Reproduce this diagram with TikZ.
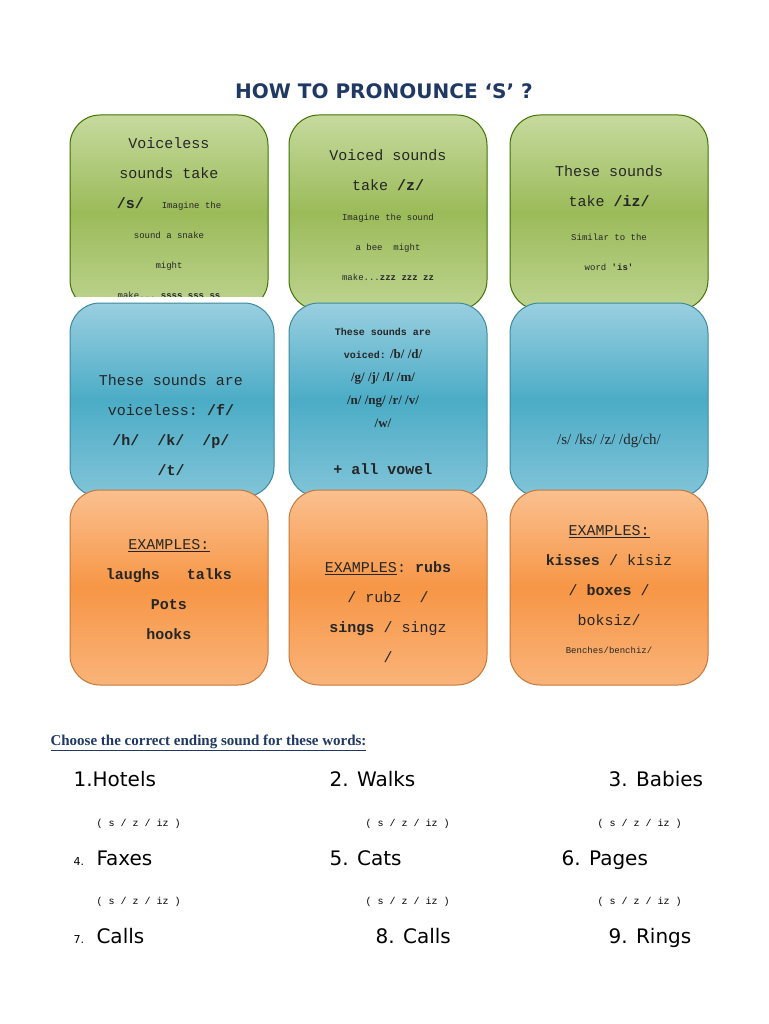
\documentclass[tikz,border=0pt]{standalone}
\usepackage{fontspec}
\setmainfont{Liberation Serif}
\setsansfont{DejaVu Sans}
\setmonofont{Liberation Mono}
\newcommand{\myul}[1]{\underline{#1}}
\begin{document}
\begin{tikzpicture}[x=1pt,y=-1pt,
  card/.style={rounded corners=30pt,line width=1pt},
  green/.style={card,draw=green!40!black!50!olive,top color=gcolA,bottom color=gcolA!80!gcolB,middle color=gcolB},
  blue/.style={card,draw=bcolB!80!black,top color=bcolA,bottom color=bcolA!70!bcolB,middle color=bcolB},
  orange/.style={card,draw=ocolB!80!black,top color=ocolA,bottom color=ocolA!70!ocolB,middle color=ocolB},
  txt/.style={align=center,font=\ttfamily\fontsize{15}{30}\selectfont,text=black!85},
  q/.style={anchor=base west,font=\sffamily\fontsize{20}{24}\selectfont},
  opt/.style={anchor=base west,font=\ttfamily\fontsize{10}{12}\selectfont}]
\definecolor{gcolA}{HTML}{C6DA9E}\definecolor{gcolB}{HTML}{9BBB59}
\definecolor{bcolA}{HTML}{9ACFE0}\definecolor{bcolB}{HTML}{4BACC6}
\definecolor{ocolA}{HTML}{FAC08F}\definecolor{ocolB}{HTML}{F79646}
\definecolor{navy}{HTML}{1F3864}
\fill[white] (0,0) rectangle (768,1024);
\useasboundingbox (0,0) rectangle (768,1024);
\node[font=\sffamily\bfseries\fontsize{20}{24}\selectfont,text=navy] (title) at (384,91) {HOW TO PRONOUNCE ‘S’ ?};
% green row
\begin{scope}
\clip (60,110) rectangle (720,296);
\draw[green] (70,115) rectangle (268,310);
\node[txt] (g1) at (169,218) {Voiceless\\sounds take\\\textbf{/s/}\ \ {\small Imagine the}\\{\small sound a snake\ }\\{\small might}\\{\small make... \textbf{ssss sss ss}}};
\end{scope}
\draw[green] (289,115) rectangle (487,310);
\node[txt] (g2) at (388,215) {Voiced sounds\\take \textbf{/z/}\\{\small Imagine the sound}\\{\small a bee\ \ might}\\{\small make...\textbf{zzz zzz zz}}};
\draw[green] (510,115) rectangle (708,310);
\node[txt] (g3) at (609,218) {These sounds\\take \textbf{/iz/}\\[4pt]{\small Similar to the}\\{\small word \textbf{'is'}}};
% blue row
\draw[blue] (70,303) rectangle (274,497);
\node[txt] (b1) at (171,425) {These sounds are\\voiceless: \textbf{/f/}\\\textbf{/h/\ \ /k/\ \ /p/}\\\textbf{/t/}};
\draw[blue] (289,303) rectangle (487,497);
\node[txt,font=\rmfamily\bfseries\fontsize{13}{23}\selectfont] (b2) at (383,378) {{\ttfamily\fontsize{10}{23}\selectfont These sounds are}\\{\ttfamily\fontsize{10}{23}\selectfont voiced:} /b/ /d/\\/g/ /j/ /l/ /m/\\/n/ /ng/ /r/ /v/\\/w/};
\node[txt,font=\ttfamily\bfseries\fontsize{15}{18}\selectfont] (b2b) at (383,469) {+ all vowel};
\draw[blue] (510,303) rectangle (708,497);
\node[txt,font=\rmfamily\fontsize{15}{18}\selectfont] (b3) at (609,441) {/s/ /ks/ /z/ /dg/ch/};
% orange row
\draw[orange] (70,490) rectangle (268,685);
\node[txt] (o1) at (169,590) {\myul{EXAMPLES:}\\\textbf{laughs\ \ \ talks}\\\textbf{Pots}\\\textbf{hooks}};
\draw[orange] (289,490) rectangle (487,685);
\node[txt] (o2) at (388,612) {\myul{EXAMPLES}: \textbf{rubs}\\/ rubz\ \ /\\\textbf{sings} / singz\\/};
\draw[orange] (510,490) rectangle (708,685);
\node[txt] (o3) at (609,590) {\myul{EXAMPLES:}\\\textbf{kisses} / kisiz\\/ \textbf{boxes} /\\boksiz/\\[-2pt]{\small Benches/benchiz/}};
% exercise
\node[anchor=base west,font=\rmfamily\bfseries\fontsize{15}{18}\selectfont,text=navy] (inst) at (47,745) {\myul{Choose the correct ending sound for these words:}};
\node[q] (w1) at (70,786) {1.Hotels};
\node[q] (w2) at (326,786) {2. Walks};
\node[q] (w3) at (605,786) {3. Babies};
\node[q] (w4) at (93,865) {Faxes};
\node[anchor=base west,font=\sffamily\fontsize{11}{12}\selectfont] (n4) at (70,865) {4.};
\node[q] (w5) at (326,865) {5. Cats};
\node[q] (w6) at (558,865) {6. Pages};
\node[q] (w7) at (93,943) {Calls};
\node[anchor=base west,font=\sffamily\fontsize{11}{12}\selectfont] (n7) at (70,943) {7.};
\node[q] (w8) at (372,943) {8. Calls};
\node[q] (w9) at (605,943) {9. Rings};
\foreach \x/\y/\n in {93/826/a,362/826/b,594/826/c,93/904/d,362/904/e,594/904/f}
  \node[opt] (o\n) at (\x,\y) {( s / z / iz )};
\end{tikzpicture}
\end{document}
